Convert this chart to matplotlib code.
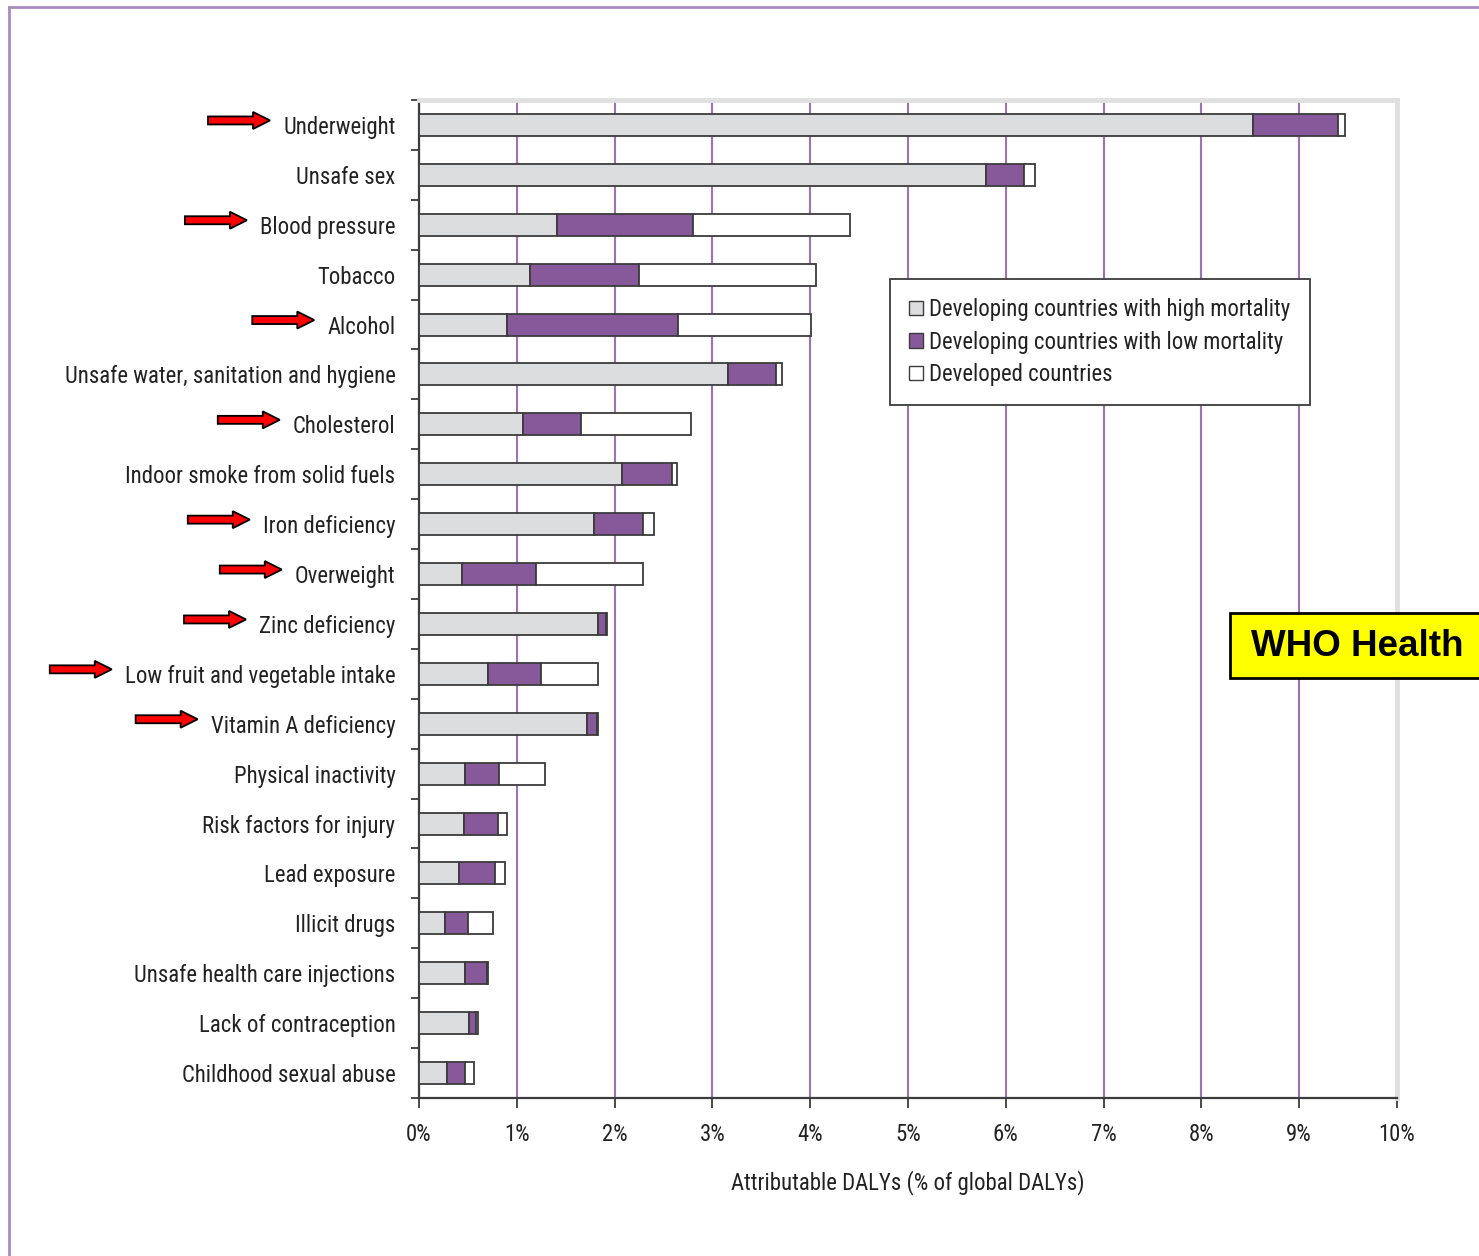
import matplotlib
matplotlib.use("Agg")
import matplotlib.pyplot as plt
from matplotlib import font_manager
from matplotlib.patches import Rectangle, FancyArrow, Patch
from matplotlib.lines import Line2D
from matplotlib.transforms import IdentityTransform
import numpy as np

# Risk factors, top to bottom
factors = [
    "Underweight", "Unsafe sex", "Blood pressure", "Tobacco", "Alcohol",
    "Unsafe water, sanitation and hygiene", "Cholesterol",
    "Indoor smoke from solid fuels", "Iron deficiency", "Overweight",
    "Zinc deficiency", "Low fruit and vegetable intake", "Vitamin A deficiency",
    "Physical inactivity", "Risk factors for injury", "Lead exposure",
    "Illicit drugs", "Unsafe health care injections", "Lack of contraception",
    "Childhood sexual abuse",
]

# Attributable DALYs (% of global DALYs) by region group
high_mortality = [8.53, 5.80, 1.41, 1.13, 0.90, 3.16, 1.06, 2.08, 1.79, 0.44,
                  1.83, 0.71, 1.72, 0.47, 0.46, 0.41, 0.27, 0.47, 0.51, 0.29]
low_mortality = [0.87, 0.39, 1.39, 1.12, 1.75, 0.49, 0.60, 0.51, 0.50, 0.76,
                 0.08, 0.54, 0.10, 0.35, 0.35, 0.37, 0.23, 0.23, 0.07, 0.18]
developed = [0.07, 0.11, 1.61, 1.81, 1.36, 0.06, 1.12, 0.05, 0.11, 1.09,
             0.01, 0.58, 0.01, 0.47, 0.09, 0.10, 0.26, 0.01, 0.02, 0.09]

series_names = ["Developing countries with high mortality",
                "Developing countries with low mortality",
                "Developed countries"]

# Factors flagged with a red arrow
highlighted = ["Underweight", "Blood pressure", "Alcohol", "Cholesterol",
               "Iron deficiency", "Overweight", "Zinc deficiency",
               "Low fruit and vegetable intake", "Vitamin A deficiency"]

x_ticks = list(range(0, 11))
x_tick_labels = [f"{t}%" for t in x_ticks]

# Pick a narrow sans face when one is available
entries = font_manager.fontManager.ttflist
names = {f.name for f in entries}
fs = 16.4
if "Liberation Sans Narrow" in names:
    family = "Liberation Sans Narrow"
elif "Roboto Condensed" in names:
    family = "Roboto Condensed"
elif "Open Sans Condensed" in names:
    family = "Open Sans Condensed"
else:
    family = "DejaVu Sans"
    fs = 12.8

plt.rcParams["font.family"] = [family, "DejaVu Sans"]

colors = ["#dcdddf", "#87599a", "#ffffff"]
edge = "#3c3c3c"
grid_col = "#9e72b4"
text_col = "#222222"

fig = plt.figure(figsize=(14.79, 12.56), dpi=100)
ax = fig.add_axes([419 / 1479, 1 - 1098 / 1256, 978 / 1479, 998 / 1256])

y = np.arange(len(factors))
left = np.zeros(len(factors))
for vals, col, name in zip([high_mortality, low_mortality, developed], colors, series_names):
    ax.barh(y, vals, left=left, height=0.44, color=col, edgecolor=edge,
            linewidth=1.3, label=name, zorder=3)
    left = left + np.array(vals)

ax.set_xlim(0, 10)
ax.set_ylim(len(factors) - 0.5, -0.5)

ax.set_xticks(x_ticks)
ax.set_xticklabels(x_tick_labels, fontsize=fs, color=text_col)
ax.set_yticks(y)
ax.set_yticklabels(factors, fontsize=fs, color=text_col)
ax.set_yticks(np.arange(-0.5, len(factors), 1.0), minor=True)
ax.tick_params(axis="y", which="major", length=0, pad=17)
ax.tick_params(axis="y", which="minor", length=6, width=1.3, color=edge)
ax.tick_params(axis="x", which="major", length=7, width=1.3, color=edge, pad=11)

ax.xaxis.grid(True, color=grid_col, linewidth=1.5, zorder=0)
ax.set_axisbelow(True)

for side in ["left", "bottom"]:
    ax.spines[side].set_color(edge)
    ax.spines[side].set_linewidth(1.6)
for side in ["top", "right"]:
    ax.spines[side].set_color("#e0e0e0")
    ax.spines[side].set_linewidth(3.5)

ax.set_xlabel("Attributable DALYs (% of global DALYs)", fontsize=fs,
              color=text_col, labelpad=17)

handles = [Patch(facecolor=c, edgecolor=edge, linewidth=1.0) for c in colors]
leg = ax.legend(handles, series_names, loc="upper left",
                bbox_to_anchor=(0.4816, 0.8206), borderaxespad=0, fontsize=fs,
                frameon=True, fancybox=False, handlelength=0.58,
                handleheight=0.58, handletextpad=0.3, labelspacing=0.4,
                borderpad=0.85)
leg.get_frame().set_edgecolor(edge)
leg.get_frame().set_linewidth(1.3)
leg.get_frame().set_alpha(1)
for t in leg.get_texts():
    t.set_color(text_col)

# Page frame
fig.add_artist(Line2D([9 / 1479, 9 / 1479], [0, 1 - 7 / 1256],
                      transform=fig.transFigure, color="#a88cbf", linewidth=2))
fig.add_artist(Line2D([9 / 1479, 1], [1 - 7 / 1256, 1 - 7 / 1256],
                      transform=fig.transFigure, color="#a88cbf", linewidth=2))

# Yellow tag on the right edge
fig.add_artist(Rectangle((1230 / 1479, 1 - 678 / 1256), 300 / 1479, 65 / 1256,
                         transform=fig.transFigure, facecolor="#ffff00",
                         edgecolor="black", linewidth=2, zorder=5))
fig.text(1251 / 1479, 1 - 646 / 1256, "WHO Health", fontsize=26.5,
         fontweight="bold", family=["Liberation Sans", "DejaVu Sans"],
         va="center", ha="left", color="black", zorder=6)

# Red arrows pointing at the highlighted factor labels
fig.canvas.draw()
renderer = fig.canvas.get_renderer()
for lbl in ax.get_yticklabels():
    if lbl.get_text() in highlighted:
        bb = lbl.get_window_extent(renderer)
        tip = bb.x0 - 13
        yc = (bb.y0 + bb.y1) / 2 + 7
        arrow = FancyArrow(tip - 62, yc, 62, 0, width=8, head_width=17,
                           head_length=17, length_includes_head=True,
                           facecolor="#ff0000", edgecolor="black",
                           linewidth=1.3, transform=IdentityTransform())
        fig.add_artist(arrow)

fig.savefig("out.png", dpi=100, facecolor="white")
